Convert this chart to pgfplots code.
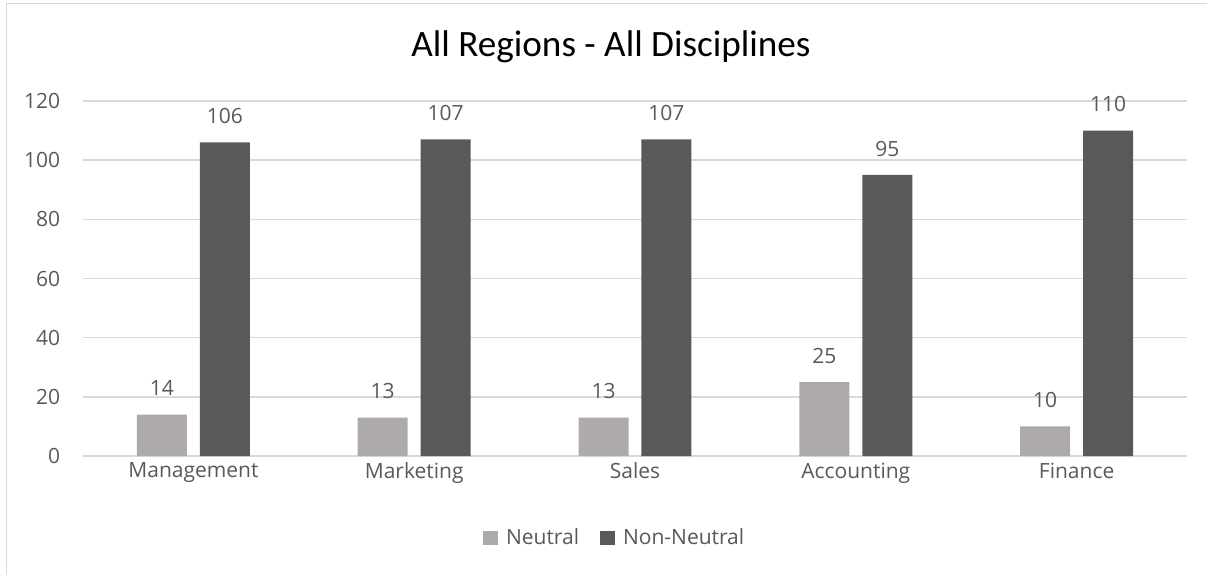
\documentclass[border=0pt]{standalone}
\usepackage{pgfplots}
\pgfplotsset{compat=1.18}
\usepackage{fontspec}
\setmainfont{Open Sans}
\newfontfamily\titlefont{Carlito}
\definecolor{neu}{HTML}{AEAAAA}
\definecolor{non}{HTML}{595959}
\definecolor{gridc}{HTML}{D9D9D9}
\definecolor{txt}{HTML}{595959}
\begin{document}
\begin{tikzpicture}[x=0.75bp,y=0.75bp]
\useasboundingbox (0,0) rectangle (1207,575);
\draw[gridc, line width=1.2bp] (6.5,0) -- (6.5,571.5) -- (1207,571.5);
\node[font=\titlefont\fontsize{28}{32}\selectfont, text=black] at (611,528) {All Regions - All Disciplines};
\begin{axis}[
  at={(62.25bp,89.25bp)}, anchor=south west,
  scale only axis, width=828bp, height=266.25bp,
  xmin=-0.5, xmax=4.5, ymin=0, ymax=120,
  ytick={0,20,...,120},
  xtick={0,1,2,3,4},
  xticklabels={Management,Marketing,Sales,Accounting,Finance},
  axis line style={draw=none},
  axis x line*=bottom,
  x axis line style={draw=gridc, line width=1.2bp},
  ymajorgrids, grid style={gridc, line width=1bp},
  major tick length=0pt,
  tick style={draw=none},
  ticklabel style={font=\fontsize{15.8}{18}\selectfont, text=txt},
  yticklabel style={inner sep=0pt, xshift=-17bp},
  xticklabel style={inner sep=0pt, yshift=-5bp},
  /pgf/number format/assume math mode=true,
  ybar=0pt, bar width=37.5bp,
  clip=false,
  nodes near coords,
  every node near coord/.append style={font=\fontsize{15.8}{18}\selectfont, text=txt, anchor=base, inner sep=0pt, yshift=14bp},
  legend style={draw=none, at={(0.482,-0.231)}, anchor=center, legend columns=2, font=\fontsize{15.8}{18}\selectfont, text=txt, inner sep=0pt,
    /tikz/every even column/.append style={column sep=14bp}},
  legend cell align=left,
]
\addplot[fill=neu, draw=none, bar shift=-23.6bp,
  legend image code/.code={\fill[neu] (0bp,-5.6bp) rectangle (11.2bp,5.6bp); \path (15bp,0bp);}]
  coordinates {(0,14) (1,13) (2,13) (3,25) (4,10)};
\addplot[fill=non, draw=none, bar shift=23.6bp,
  legend image code/.code={\fill[non] (0bp,-5.6bp) rectangle (11.2bp,5.6bp); \path (15bp,0bp);}]
  coordinates {(0,106) (1,107) (2,107) (3,95) (4,110)};
\legend{Neutral,Non-Neutral}
\end{axis}
\end{tikzpicture}
\end{document}
